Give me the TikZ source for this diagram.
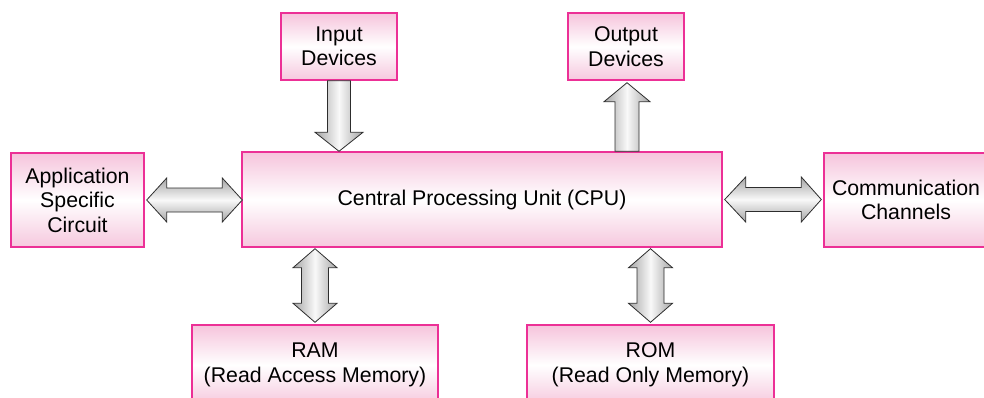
\documentclass[tikz,border=0pt]{standalone}
\usepackage{fontspec}
\setmainfont{Liberation Sans}
\usetikzlibrary{calc}
\definecolor{pinkline}{RGB}{236,48,150}
\definecolor{pinktop}{RGB}{246,196,220}
\definecolor{pinkbot}{RGB}{246,200,222}
\definecolor{arrgray}{RGB}{165,165,165}
\definecolor{arrline}{RGB}{45,45,45}
\tikzset{
  blockbox/.style={draw=pinkline, line width=1.4pt, top color=pinktop, bottom color=pinkbot, middle color=white,
    align=center, font=\fontsize{21.3}{24.5}\selectfont, inner sep=0pt},
  boxlabel/.style={align=center, font=\fontsize{21.3}{24.5}\selectfont, inner sep=0pt},
  fatarrowv/.style={draw=arrline, line width=0.8pt, left color=arrgray, right color=arrgray, middle color=white!95!gray, line join=miter},
  fatarrowh/.style={draw=arrline, line width=0.8pt, top color=arrgray, bottom color=arrgray, middle color=white!95!gray, line join=miter}
}
\begin{document}
\begin{tikzpicture}[x=1pt,y=-1pt]
\useasboundingbox (0,0) rectangle (984,397);
\clip (0,0) rectangle (984,397);
% boxes
\node[blockbox, minimum width=116pt, minimum height=67pt] (in) at (339,46.5) {Input\\Devices};
\node[blockbox, minimum width=116pt, minimum height=67pt] (out) at (626,46.5) {Output\\Devices};
\node[blockbox, minimum width=480pt, minimum height=95pt] (cpu) at (482,199.5) {Central Processing Unit (CPU)};
\node[blockbox, minimum width=133pt, minimum height=94pt] (app) at (77.5,200) {Application\\Specific\\Circuit};
\node[blockbox, minimum width=176pt, minimum height=94pt] (comm) at (912,200) {};
\node[boxlabel] (commlabel) at ($(comm.center)+(-6,0)$) {Communication\\Channels};
\node[blockbox, minimum width=246pt, minimum height=80pt] (ram) at (315,365) {RAM\\(Read Access Memory)};
\node[blockbox, minimum width=247pt, minimum height=80pt] (rom) at (650.5,365) {ROM\\(Read Only Memory)};
% input arrow (down)
\coordinate (inA) at (in.south);
\coordinate (inB) at (in.south |- cpu.north);
\path[fatarrowv] ($(inA)+(-11.5,0)$) -- ($(inB)+(-11.5,-19)$) -- ++(-12.5,0) -- (inB) -- ($(inB)+(24,-19)$) -- ++(-12.5,0) -- ($(inA)+(11.5,0)$) -- cycle;
% output arrow (up)
\coordinate (outA) at ($(out.south)+(1,2)$);
\coordinate (outB) at ($(out.south |- cpu.north)+(1,0)$);
\path[fatarrowv] (outA) -- ($(outA)+(23,19)$) -- ++(-11,0) -- ($(outB)+(12,0)$) -- ++(-24,0) -- ($(outA)+(-12,19)$) -- ++(-11,0) -- cycle;
% left double arrow
\coordinate (lA) at ($(app.east)+(2,0)$);
\coordinate (lB) at ($(app.east -| cpu.west)+(1,0)$);
\path[fatarrowh] (lA) -- ++(20,-22) -- ++(0,10) -- ($(lB)+(-20,-12)$) -- ++(0,-10) -- (lB) -- ++(-20,22) -- ++(0,-10) -- ($(lA)+(20,12)$) -- ++(0,10) -- cycle;
% right double arrow
\coordinate (rA) at ($(cpu.east)+(2,0)$);
\coordinate (rB) at ($(cpu.east -| comm.west)+(-2,0)$);
\path[fatarrowh] (rA) -- ++(21,-22.5) -- ++(0,10.5) -- ($(rB)+(-20,-12)$) -- ++(0,-10.5) -- (rB) -- ++(-20,22.5) -- ++(0,-10.5) -- ($(rA)+(21,12)$) -- ++(0,10.5) -- cycle;
% RAM double arrow
\coordinate (mA) at ($(cpu.south -| ram.north)+(0,1)$);
\coordinate (mB) at ($(ram.north)+(0,-2)$);
\path[fatarrowv] (mA) -- ++(22,19) -- ++(-8.5,0) -- ($(mB)+(13.5,-19)$) -- ++(8.5,0) -- (mB) -- ++(-22,-19) -- ++(8.5,0) -- ($(mA)+(-13.5,19)$) -- ++(-8.5,0) -- cycle;
% ROM double arrow
\coordinate (oA) at ($(cpu.south -| rom.north)+(0,1)$);
\coordinate (oB) at ($(rom.north)+(0,-2)$);
\path[fatarrowv] (oA) -- ++(22,19) -- ++(-8.5,0) -- ($(oB)+(13.5,-19)$) -- ++(8.5,0) -- (oB) -- ++(-22,-19) -- ++(8.5,0) -- ($(oA)+(-13.5,19)$) -- ++(-8.5,0) -- cycle;
\end{tikzpicture}
\end{document}
